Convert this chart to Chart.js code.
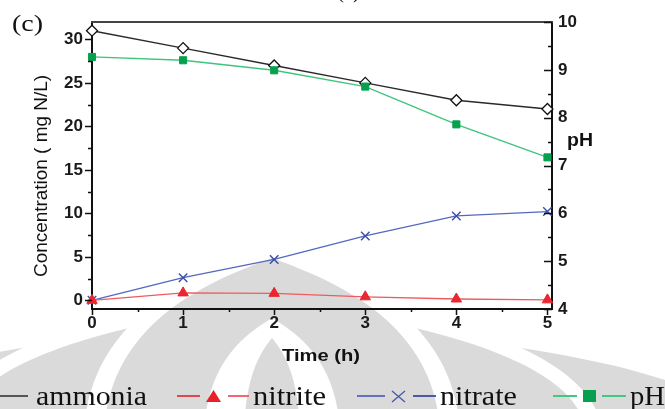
<!DOCTYPE html>
<html>
<head>
<meta charset="utf-8">
<script src="https://cdn.jsdelivr.net/npm/chart.js@4.4.1/dist/chart.umd.min.js"></script>
<style>
  html, body { margin: 0; padding: 0; background: #fff; }
  #wrap { position: relative; width: 665px; height: 409px; overflow: hidden; }
  #chart { position: absolute; left: 0; top: 0; }
  #overlay { position: absolute; left: 0; top: 0; pointer-events: none; overflow: visible; }
  #overlay text { fill: #111; }
</style>
</head>
<body>
<div id="wrap">
  <canvas id="chart" width="665" height="409" style="width:665px;height:409px"></canvas>
  <svg id="overlay" width="665" height="409" xmlns="http://www.w3.org/2000/svg">
    <text x="12" y="31" font-family="Liberation Serif, Times New Roman, serif" font-size="24" textLength="31" lengthAdjust="spacingAndGlyphs">(c)</text>
    <text x="337" y="-2" font-family="Liberation Serif, Times New Roman, serif" font-size="22" textLength="23" lengthAdjust="spacingAndGlyphs">(c)</text>
    <text transform="translate(47,176) rotate(-90)" text-anchor="middle" font-family="Liberation Sans, Arial, sans-serif" font-size="18" textLength="202" lengthAdjust="spacingAndGlyphs">Concentration ( mg N/L)</text>
    <text x="567" y="146" font-family="Liberation Sans, Arial, sans-serif" font-size="18" font-weight="bold" textLength="26" lengthAdjust="spacingAndGlyphs">pH</text>
    <text x="282" y="361" font-family="Liberation Sans, Arial, sans-serif" font-size="17" font-weight="bold" textLength="78" lengthAdjust="spacingAndGlyphs">Time (h)</text>
    <g id="legend"></g>
  </svg>
</div>
<script>
// data
const times = [0, 1, 2, 3, 4, 5];
const ammonia = [31, 29, 27, 25, 23, 22];
const nitrite = [0, 0.85, 0.8, 0.4, 0.15, 0.05];
const nitrate = [0, 2.6, 4.7, 7.4, 9.7, 10.2];
const ph = [9.27, 9.2, 8.99, 8.65, 7.86, 7.17];

const seriesNames = ['ammonia', 'nitrite', 'nitrate', 'pH'];

// tick positions (major ones get labels)
const xTicks = [0, 0.5, 1, 1.5, 2, 2.5, 3, 3.5, 4, 4.5, 5];
const concTicks = [0, 2.5, 5, 7.5, 10, 12.5, 15, 17.5, 20, 22.5, 25, 27.5, 30];
const phTicks = [4, 4.5, 5, 5.5, 6, 6.5, 7, 7.5, 8, 8.5, 9, 9.5, 10];

const toPoints = vals => times.map((t, i) => ({ x: t, y: vals[i] }));

const SANS = '"Liberation Sans", Arial, sans-serif';
Chart.defaults.font.family = SANS;

// light gray watermark + frame/tick marks
const framePlugin = {
  id: 'framePlugin',
  beforeDraw(chart) {
    const ctx = chart.ctx;
    ctx.save();
    ctx.fillStyle = '#fff';
    ctx.fillRect(0, 0, chart.width, chart.height);
    const cx = 272, base = 440;
    const ogive = (hw, apex, color) => {
      const h = base - apex;
      ctx.beginPath();
      ctx.moveTo(cx - hw, base);
      ctx.bezierCurveTo(cx - hw, apex + h * 0.35, cx - hw * 0.35, apex + h * 0.12, cx, apex);
      ctx.bezierCurveTo(cx + hw * 0.35, apex + h * 0.12, cx + hw, apex + h * 0.35, cx + hw, base);
      ctx.closePath();
      ctx.fillStyle = color;
      ctx.fill();
    };
    const g = '#dadada';
    ogive(470, 320, g);
    ogive(331, 285, '#fff');
    ogive(315, 302, g);
    ogive(188, 246, '#fff');
    ogive(168, 258, g);
    ogive(68, 318, '#fff');
    ogive(28, 338, g);
    ctx.restore();
  },
  afterDraw(chart) {
    const ctx = chart.ctx;
    const { left, right, top, bottom } = chart.chartArea;
    const xs = chart.scales.x, ys = chart.scales.y, y2 = chart.scales.y2;
    ctx.save();
    ctx.strokeStyle = '#444';
    ctx.lineWidth = 2;
    ctx.beginPath();
    ctx.moveTo(left - 1, top);
    ctx.lineTo(right + 1, top);
    ctx.stroke();

    ctx.strokeStyle = '#111';
    ctx.lineWidth = 1.5;
    ctx.beginPath();
    xTicks.forEach(v => {
      const px = Math.round(xs.getPixelForValue(v)) + 0.5;
      const len = Number.isInteger(v) ? 6 : 3;
      ctx.moveTo(px, bottom);
      ctx.lineTo(px, bottom + len);
    });
    concTicks.forEach(v => {
      const py = Math.round(ys.getPixelForValue(v)) + 0.5;
      const len = v % 5 === 0 ? 7 : 4;
      ctx.moveTo(left - len, py);
      ctx.lineTo(left, py);
    });
    phTicks.forEach(v => {
      const py = Math.round(y2.getPixelForValue(v)) + 0.5;
      const len = Number.isInteger(v) ? 8 : 4;
      ctx.moveTo(right - len, py);
      ctx.lineTo(right, py);
    });
    ctx.stroke();
    ctx.restore();
  }
};

const tickFont = { size: 17, weight: 'bold' };

new Chart(document.getElementById('chart').getContext('2d'), {
  type: 'line',
  data: {
    datasets: [
      {
        label: seriesNames[3],
        data: toPoints(ph),
        yAxisID: 'y2',
        borderColor: '#3ec57c',
        borderWidth: 1.4,
        pointStyle: 'rect',
        pointRadius: 5,
        pointBackgroundColor: '#07a04f',
        pointBorderColor: '#07a04f',
        pointBorderWidth: 1,
        clip: false
      },
      {
        label: seriesNames[0],
        data: toPoints(ammonia),
        yAxisID: 'y',
        borderColor: '#2a2a2a',
        borderWidth: 1.4,
        pointStyle: 'rectRot',
        pointRadius: 5.5,
        pointBackgroundColor: '#fff',
        pointBorderColor: '#111',
        pointBorderWidth: 1.3,
        clip: false
      },
      {
        label: seriesNames[1],
        data: toPoints(nitrite),
        yAxisID: 'y',
        borderColor: '#f05a5f',
        borderWidth: 1.3,
        pointStyle: 'triangle',
        pointRadius: 6,
        pointBackgroundColor: '#ea2630',
        pointBorderColor: '#ea2630',
        pointBorderWidth: 1,
        clip: false
      },
      {
        label: seriesNames[2],
        data: toPoints(nitrate),
        yAxisID: 'y',
        borderColor: '#5468bd',
        borderWidth: 1.3,
        pointStyle: 'crossRot',
        pointRadius: 6,
        pointBorderColor: '#3a4ea8',
        pointBorderWidth: 1.4,
        clip: false
      }
    ]
  },
  options: {
    responsive: false,
    animation: false,
    devicePixelRatio: 1,
    layout: { padding: { top: 22, left: 0, right: 0, bottom: 0 } },
    plugins: { legend: { display: false }, tooltip: { enabled: false } },
    elements: { line: { tension: 0 } },
    scales: {
      x: {
        type: 'linear',
        min: 0,
        max: 5.05,
        afterBuildTicks: s => { s.ticks = xTicks.map(v => ({ value: v })); },
        afterFit: s => { s.height = 100; },
        grid: { display: false, drawTicks: false },
        border: { display: true, color: '#111', width: 2 },
        ticks: {
          autoSkip: false, maxRotation: 0, padding: 4, color: '#1a1a1a', font: tickFont,
          callback: v => Number.isInteger(v) ? v : ''
        }
      },
      y: {
        position: 'left',
        min: -1,
        max: 32,
        afterBuildTicks: s => { s.ticks = concTicks.map(v => ({ value: v })); },
        afterFit: s => { s.width = 92; },
        grid: { display: false, drawTicks: false },
        border: { display: true, color: '#111', width: 2 },
        ticks: {
          autoSkip: false, padding: 9, color: '#1a1a1a', font: tickFont,
          callback: v => v % 5 === 0 ? v : ''
        }
      },
      y2: {
        position: 'right',
        min: 4,
        max: 10,
        afterBuildTicks: s => { s.ticks = phTicks.map(v => ({ value: v })); },
        afterFit: s => { s.width = 113; },
        grid: { display: false, drawTicks: false },
        border: { display: true, color: '#111', width: 2 },
        ticks: {
          autoSkip: false, padding: 6, color: '#1a1a1a', font: tickFont,
          callback: v => Number.isInteger(v) ? v : ''
        }
      }
    }
  },
  plugins: [framePlugin]
});

// legend row: line - marker - line, then the name
const NS = 'http://www.w3.org/2000/svg';
const legend = document.getElementById('legend');
const el = (tag, attrs) => {
  const e = document.createElementNS(NS, tag);
  Object.entries(attrs).forEach(([k, v]) => e.setAttribute(k, v));
  legend.appendChild(e);
  return e;
};
const ly = 396;
const seg = (x1, x2, color) => el('line', { x1, x2, y1: ly, y2: ly, stroke: color, 'stroke-width': 2 });
const label = (name, x, len) => {
  const t = el('text', {
    x, y: 405, 'font-family': 'Liberation Serif, Times New Roman, serif', 'font-size': 27,
    textLength: len, lengthAdjust: 'spacingAndGlyphs'
  });
  t.textContent = name;
};

// ammonia
seg(0, 28, '#555');
label(seriesNames[0], 36, 111);
// nitrite
seg(177, 200, '#e0484f');
el('polygon', { points: '206,402 221,402 213.5,390', fill: '#e8202a' });
seg(228, 249, '#ef6a70');
label(seriesNames[1], 253, 73);
// nitrate
seg(357, 385, '#6272c0');
el('path', { d: 'M392,391 L405,402 M392,402 L405,391', stroke: '#4a5aaa', 'stroke-width': 1.4, fill: 'none' });
seg(413, 436, '#4a5aaa');
label(seriesNames[2], 440, 77);
// pH
seg(553, 577, '#44c784');
el('rect', { x: 583, y: 390, width: 13, height: 12, fill: '#07a04f' });
seg(602, 626, '#44c784');
label(seriesNames[3], 630, 35);
</script>
</body>
</html>
